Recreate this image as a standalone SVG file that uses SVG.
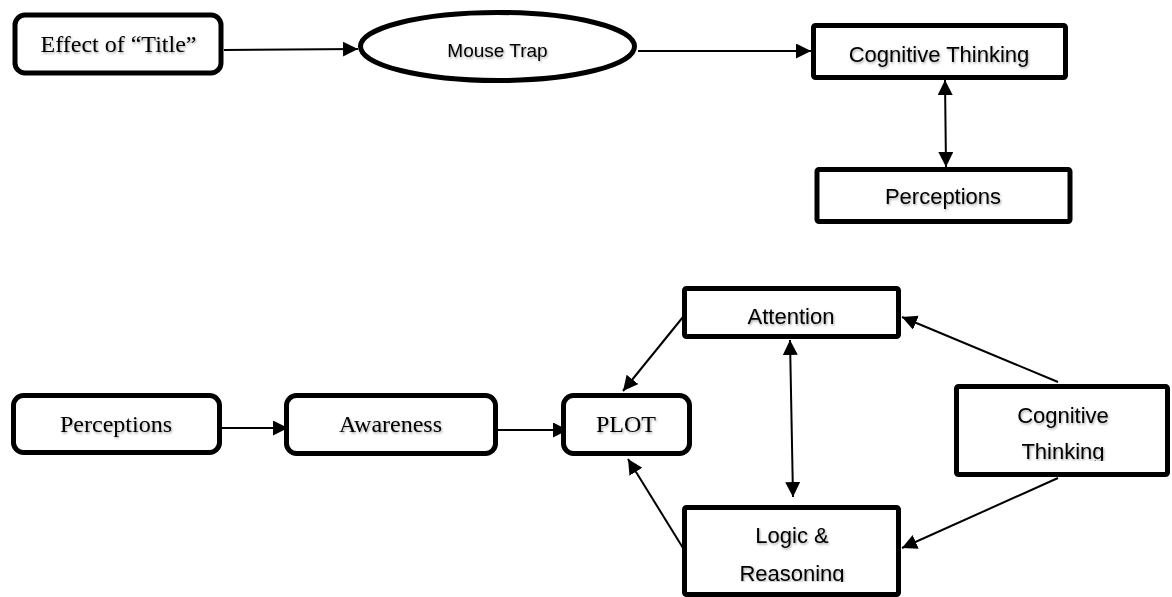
<svg xmlns="http://www.w3.org/2000/svg" width="1172" height="597" viewBox="0 0 1172 597">
  <style>
    .box { fill: #ffffff; stroke: #000000; stroke-width: 5; }
    .edge { stroke: #000000; stroke-width: 2; fill: none; }
    .serif { font-family: "Liberation Serif", "Times New Roman", serif; font-size: 24px; fill: #000000; text-anchor: middle; }
    .sans { font-family: "Liberation Sans", Arial, sans-serif; font-size: 22px; fill: #000000; text-anchor: middle; }
    .lbl { filter: url(#soft); }
  </style>
  <defs>
    <marker id="head" markerUnits="userSpaceOnUse" markerWidth="17" markerHeight="16" refX="15" refY="7.5" orient="auto-start-reverse">
      <path d="M0,0 L15,7.5 L0,15 Z" fill="#000000"/>
    </marker>
    <filter id="soft" x="-10%" y="-30%" width="130%" height="180%">
      <feDropShadow dx="1" dy="1.5" stdDeviation="1" flood-color="#000000" flood-opacity="0.35"/>
    </filter>
    <clipPath id="clipLogic"><rect x="684" y="508" width="214" height="74"/></clipPath>
    <clipPath id="clipCog"><rect x="956" y="387" width="211" height="74"/></clipPath>
  </defs>

  <!-- connectors -->
  <g id="connectors">
    <line class="edge" x1="224" y1="50" x2="358" y2="49" marker-end="url(#head)"/>
    <line class="edge" x1="638" y1="51" x2="811" y2="51" marker-end="url(#head)"/>
    <line class="edge" x1="945" y1="80" x2="946" y2="167" marker-start="url(#head)" marker-end="url(#head)"/>
    <line class="edge" x1="222" y1="428" x2="288" y2="428" marker-end="url(#head)"/>
    <line class="edge" x1="498" y1="430" x2="568" y2="430" marker-end="url(#head)"/>
    <line class="edge" x1="683" y1="317" x2="623" y2="391" marker-end="url(#head)"/>
    <line class="edge" x1="683" y1="548" x2="628" y2="459" marker-end="url(#head)"/>
    <line class="edge" x1="1058" y1="382" x2="902" y2="317" marker-end="url(#head)"/>
    <line class="edge" x1="1058" y1="478" x2="902" y2="548" marker-end="url(#head)"/>
    <line class="edge" x1="790" y1="340" x2="793" y2="497" marker-start="url(#head)" marker-end="url(#head)"/>
  </g>

  <!-- top row -->
  <g id="effect-title">
    <rect class="box" x="15" y="15" width="206" height="58" rx="10"/>
    <text class="serif lbl" x="118.5" y="52">Effect of “Title”</text>
  </g>
  <g id="mouse-trap">
    <ellipse class="box" cx="497.5" cy="46.5" rx="137" ry="34"/>
    <text class="sans lbl" x="497.5" y="57" style="font-size:19px">Mouse Trap</text>
  </g>
  <g id="cognitive-thinking-top">
    <rect class="box" x="813.5" y="25.5" width="252" height="52" rx="2"/>
    <text class="sans lbl" x="939" y="62">Cognitive Thinking</text>
  </g>
  <g id="perceptions-top">
    <rect class="box" x="817" y="169.5" width="253" height="52" rx="2"/>
    <text class="sans lbl" x="943" y="204">Perceptions</text>
  </g>

  <!-- bottom row -->
  <g id="perceptions-bottom">
    <rect class="box" x="13.5" y="395.5" width="206" height="57" rx="10"/>
    <text class="serif lbl" x="116" y="432">Perceptions</text>
  </g>
  <g id="awareness">
    <rect class="box" x="286.5" y="395.5" width="209" height="58" rx="10"/>
    <text class="serif lbl" x="390.5" y="432">Awareness</text>
  </g>
  <g id="plot">
    <rect class="box" x="563.5" y="395.5" width="126" height="58" rx="10"/>
    <text class="serif lbl" x="626" y="432">PLOT</text>
  </g>
  <g id="attention">
    <rect class="box" x="684.5" y="288.5" width="214" height="48" rx="2"/>
    <text class="sans lbl" x="791" y="324">Attention</text>
  </g>
  <g id="logic-reasoning">
    <rect class="box" x="684.5" y="507.5" width="214" height="87" rx="2"/>
    <g clip-path="url(#clipLogic)">
      <text class="sans lbl" x="792" y="543">Logic &amp;</text>
      <text class="sans lbl" x="792" y="581">Reasoning</text>
    </g>
  </g>
  <g id="cognitive-thinking-bottom">
    <rect class="box" x="956.5" y="386.5" width="211" height="88" rx="2"/>
    <g clip-path="url(#clipCog)">
      <text class="sans lbl" x="1063" y="423">Cognitive</text>
      <text class="sans lbl" x="1063" y="459">Thinking</text>
    </g>
  </g>
</svg>
